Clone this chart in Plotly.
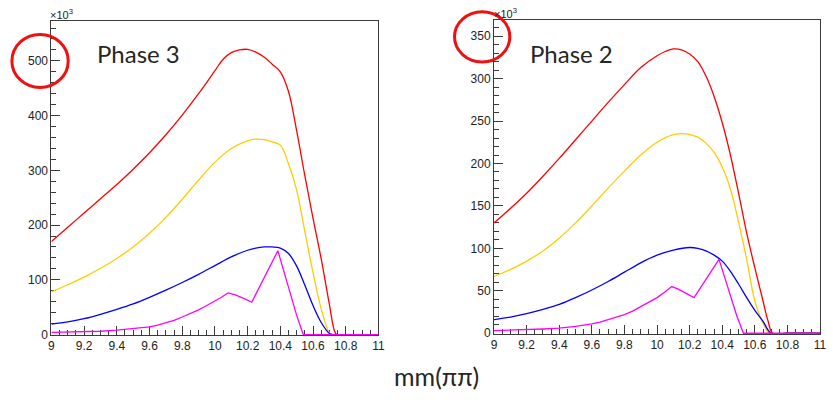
import plotly.graph_objects as go

W, H = 833, 403

# ---------------- Phase 3 (left panel), entries in units of 10^3 ----------------
p3_red_x = [9.0, 9.1, 9.2, 9.3, 9.4, 9.5, 9.6, 9.7, 9.8, 9.9, 10.0, 10.05, 10.1, 10.15,
            10.2, 10.25, 10.3, 10.35, 10.4, 10.45, 10.5, 10.55, 10.6, 10.65, 10.7, 10.73,
            10.745, 10.8, 11.0]
p3_red_y = [170, 196, 222, 248, 274, 302, 332, 365, 401, 440, 482, 503, 515, 520,
            521, 516, 507, 494, 480, 444, 372, 290, 212, 138, 55, 8,
            0, 0, 0]

p3_yel_x = [9.0, 9.1, 9.2, 9.3, 9.4, 9.5, 9.6, 9.7, 9.8, 9.9, 10.0, 10.1, 10.2, 10.25,
            10.3, 10.35, 10.4, 10.45, 10.5, 10.55, 10.6, 10.65, 10.7, 10.72, 10.8, 11.0]
p3_yel_y = [78, 91, 105, 121, 139, 160, 185, 214, 247, 282, 315, 340, 354, 357,
            356, 352, 346, 312, 264, 188, 113, 47, 3, 0, 0, 0]

p3_blu_x = [9.0, 9.1, 9.2, 9.3, 9.4, 9.5, 9.6, 9.7, 9.8, 9.9, 10.0, 10.1, 10.2, 10.25,
            10.3, 10.35, 10.4, 10.45, 10.5, 10.55, 10.6, 10.65, 10.7, 10.72, 10.8, 11.0]
p3_blu_y = [19, 23, 29, 37, 46, 56, 68, 81, 95, 110, 126, 142, 154, 158,
            160, 160, 158, 148, 125, 90, 53, 22, 2, 0, 0, 0]

p3_mag_x = [9.0, 9.1, 9.2, 9.3, 9.4, 9.5, 9.6, 9.65, 9.7, 9.75, 9.8, 9.85, 9.9, 9.95,
            10.0, 10.04, 10.08, 10.12, 10.17, 10.225, 10.385, 10.45, 10.5, 10.54,
            10.7, 11.0]
p3_mag_y = [4, 4.5, 5, 6, 8, 10.5, 14, 17, 21, 26, 32, 38, 45, 53,
            61, 68, 76, 73, 67, 59, 153, 85, 35, 0,
            0, 0]

# ---------------- Phase 2 (right panel), entries in units of 10^3 ----------------
p2_red_x = [9.0, 9.1, 9.2, 9.3, 9.4, 9.5, 9.6, 9.7, 9.8, 9.9, 10.0, 10.05, 10.1, 10.15,
            10.2, 10.25, 10.3, 10.35, 10.4, 10.45, 10.5, 10.55, 10.6, 10.65, 10.68,
            10.71, 10.8, 11.0]
p2_red_y = [130, 147, 165, 185, 206, 228, 250, 272, 293, 313, 327, 332, 335, 334,
            329, 320, 303, 279, 248, 210, 165, 118, 77, 38, 15,
            0, 0, 0]

p2_yel_x = [9.0, 9.1, 9.2, 9.3, 9.4, 9.5, 9.6, 9.7, 9.8, 9.9, 10.0, 10.1, 10.18, 10.25,
            10.3, 10.35, 10.4, 10.45, 10.5, 10.55, 10.6, 10.65, 10.69, 10.8, 11.0]
p2_yel_y = [67, 75, 85, 97, 112, 130, 150, 171, 191, 210, 225, 234, 235, 231,
            224, 213, 196, 170, 131, 87, 38, 12, 0, 0, 0]

p2_blu_x = [9.0, 9.1, 9.2, 9.3, 9.4, 9.5, 9.6, 9.7, 9.8, 9.9, 10.0, 10.1, 10.2, 10.25,
            10.3, 10.35, 10.4, 10.45, 10.5, 10.55, 10.6, 10.65, 10.7, 10.8, 11.0]
p2_blu_y = [16, 19, 23, 28, 34, 42, 51, 61, 72, 83, 92, 98, 101, 100,
            97, 92, 85, 73, 58, 42, 27, 14, 0, 0, 0]

p2_mag_x = [9.0, 9.1, 9.2, 9.3, 9.4, 9.5, 9.6, 9.65, 9.7, 9.75, 9.8, 9.85, 9.9, 9.95,
            10.0, 10.05, 10.09, 10.13, 10.18, 10.227, 10.38, 10.44, 10.49, 10.53,
            10.7, 11.0]
p2_mag_y = [3, 3.5, 4, 5, 6, 8, 11, 13, 16, 19, 22, 26, 31, 36,
            42, 49, 55, 52, 47, 42, 87, 50, 20, 0,
            0, 0]

x_tick_vals = [9.0, 9.2, 9.4, 9.6, 9.8, 10.0, 10.2, 10.4, 10.6, 10.8, 11.0]
x_tick_text = ["9", "9.2", "9.4", "9.6", "9.8", "10", "10.2", "10.4", "10.6", "10.8", "11"]
p3_y_ticks = [0, 100, 200, 300, 400, 500]
p2_y_ticks = [0, 50, 100, 150, 200, 250, 300, 350]

RED, YEL, BLU, MAG = "#ff0000", "#ffcc00", "#0000ff", "#ff00ff"
FRAME = "#3a3a3a"
TICKFONT = dict(family="Liberation Sans, Arial, sans-serif", size=12, color="#222222")


def px_x(p):
    return p / W


def px_y(p):
    return 1 - p / H


fig = go.Figure()

panels = [
    ("x", "y", [(p3_red_x, p3_red_y, RED), (p3_yel_x, p3_yel_y, YEL),
                (p3_blu_x, p3_blu_y, BLU), (p3_mag_x, p3_mag_y, MAG)]),
    ("x2", "y2", [(p2_red_x, p2_red_y, RED), (p2_yel_x, p2_yel_y, YEL),
                  (p2_blu_x, p2_blu_y, BLU), (p2_mag_x, p2_mag_y, MAG)]),
]
for xa, ya, series in panels:
    for xs, ys, col in series:
        # magenta has sharp kinks, so it is drawn with straight segments
        shape = "linear" if col == MAG else "spline"
        fig.add_trace(go.Scatter(
            x=xs, y=ys, mode="lines", xaxis=xa, yaxis=ya,
            line=dict(color=col, width=1.3, shape=shape, smoothing=1.0),
            showlegend=False, hoverinfo="skip"))


def xaxis_cfg(dom, anchor):
    return dict(
        domain=dom, anchor=anchor, range=[9, 11],
        tickvals=x_tick_vals, ticktext=x_tick_text,
        ticks="inside", ticklen=9, tickwidth=1, tickcolor=FRAME,
        minor=dict(dtick=0.05, tick0=9, ticks="inside", ticklen=5, tickcolor=FRAME),
        showline=True, linecolor=FRAME, linewidth=1, mirror=True,
        showgrid=False, zeroline=False, tickfont=TICKFONT, layer="below traces",
    )


def yaxis_cfg(dom, anchor, top, ticks, minor_step):
    return dict(
        domain=dom, anchor=anchor, range=[-1, top],
        tickvals=ticks, ticktext=[str(t) for t in ticks],
        ticks="inside", ticklen=9, tickwidth=1, tickcolor=FRAME,
        minor=dict(dtick=minor_step, tick0=0, ticks="inside", ticklen=5, tickcolor=FRAME),
        showline=True, linecolor=FRAME, linewidth=1, mirror=True,
        showgrid=False, zeroline=False, tickfont=TICKFONT, layer="below traces",
    )


left_x = [px_x(49), px_x(380)]
left_y = [px_y(341), px_y(21)]
right_x = [px_x(497), px_x(827)]
right_y = [px_y(340), px_y(20)]

fig.update_layout(
    width=W, height=H,
    margin=dict(l=0, r=0, t=0, b=0),
    paper_bgcolor="white", plot_bgcolor="white",
    xaxis=xaxis_cfg(left_x, "y"),
    yaxis=yaxis_cfg(left_y, "x", 573.5, p3_y_ticks, 20),
    xaxis2=xaxis_cfg(right_x, "y2"),
    yaxis2=yaxis_cfg(right_y, "x2", 369.5, p2_y_ticks, 10),
)

TITLE_FONT = dict(family="Lato, 'Open Sans', sans-serif", size=24, color="#262626")
EXP_FONT = dict(family="Liberation Sans, Arial, sans-serif", size=11, color="#222222")

annotations = [
    dict(text="Phase 3", x=px_x(93), y=px_y(54), xanchor="left", yanchor="middle",
         font=TITLE_FONT),
    dict(text="Phase 2", x=px_x(531), y=px_y(54), xanchor="left", yanchor="middle",
         font=TITLE_FONT),
    dict(text="mm(ππ)", x=px_x(439), y=px_y(383), xanchor="center", yanchor="middle",
         font=dict(family="Lato, 'Open Sans', sans-serif", size=25, color="#262626")),
    dict(text="×10<sup>3</sup>", x=px_x(46), y=px_y(14), xanchor="left", yanchor="middle",
         font=EXP_FONT),
    dict(text="×10<sup>3</sup>", x=px_x(495), y=px_y(13), xanchor="left", yanchor="middle",
         font=EXP_FONT),
]
for a in annotations:
    a.update(xref="paper", yref="paper", showarrow=False)
fig.update_layout(annotations=annotations)

# red rings around the top y labels
for x0, y0, x1, y1 in [(9, 35, 66, 89), (457, 12, 513, 63)]:
    fig.add_shape(type="circle", xref="paper", yref="paper",
                  x0=px_x(x0), x1=px_x(x1), y0=px_y(y1), y1=px_y(y0),
                  line=dict(color="#ee1111", width=3))

fig.write_html("out.html")
